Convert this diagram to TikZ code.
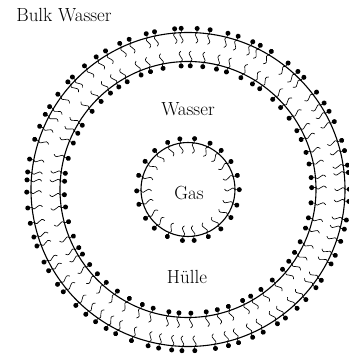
\documentclass[tikz,border=0pt]{standalone}
\usepackage{fontspec}

\tikzset{
  % amphiphile: head at +x, tail towards -x, origin on the membrane
  tenside/.pic={
    \draw[line width=0.6pt] (0,0) -- (3.5,0);
    \fill (4.3,0) circle (2.5);
    \draw[line width=0.65pt] (0,0) .. controls (-3,5.5) and (-6.5,-5.5) .. (-10.5,0.5);
  },
  membran/.style={line width=1.1pt},
  beschriftung/.style={font=\fontsize{19}{22}\selectfont}
}

\begin{document}
\begin{tikzpicture}[x=1pt, y=1pt]
    \useasboundingbox (-188,-166.5) rectangle (160,189.5);
    \pgfmathsetseed{17}

    % Membranes
    \draw[membran] (0,0) circle (157);
    \draw[membran] (0,0) circle (128);
    \draw[membran] (0,0) circle (47);

    % Outer shell: heads into bulk water
    \foreach \i in {1,...,75} {
        \pgfmathsetmacro\w{360/75*\i + 1.5*rand}
        \pic[rotate=\w] at (\w:157) {tenside};
    }
    % Inner shell: heads into the water layer
    \foreach \i in {1,...,61} {
        \pgfmathsetmacro\w{360/61*\i + 1.5*rand}
        \pic[rotate=\w+180] at (\w:128) {tenside};
    }
    % Gas bubble: heads into the water layer
    \foreach \i in {1,...,22} {
        \pgfmathsetmacro\w{360/22*\i + 2*rand}
        \pic[rotate=\w] at (\w:47) {tenside};
    }

    % Labels
    \node[beschriftung] (bulk) at (-124,174.5) {Bulk Wasser};
    \node[beschriftung] (wasser) at (0,80.5) {Wasser};
    \node[beschriftung] (gas) at (1,-3.5) {Gas};
    \node[beschriftung] (huelle) at (-1,-87.5) {Hülle};
\end{tikzpicture}
\end{document}
